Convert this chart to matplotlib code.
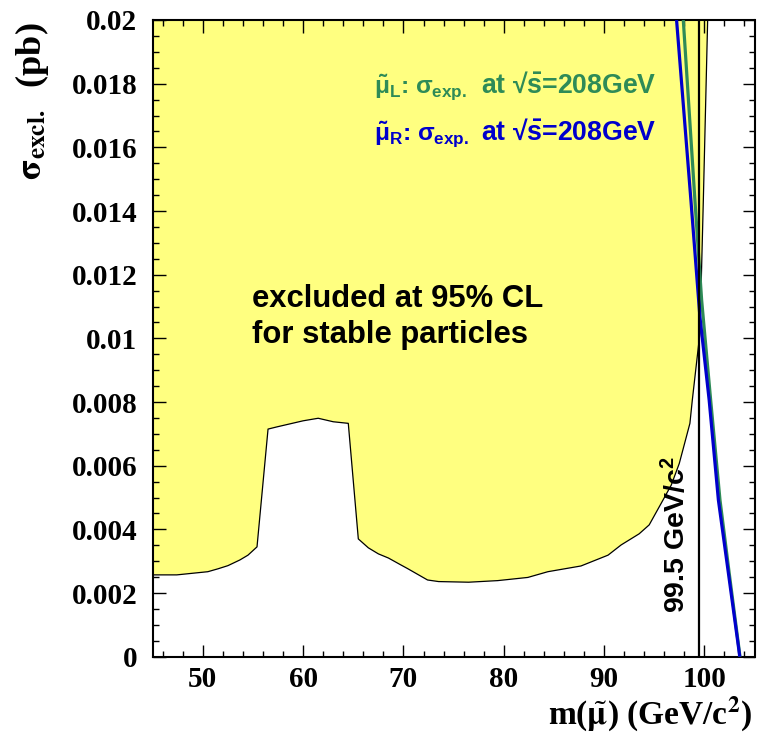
import matplotlib
matplotlib.use("Agg")
import matplotlib.pyplot as plt
from matplotlib.ticker import MultipleLocator

plt.rcParams['mathtext.fontset'] = 'custom'
plt.rcParams['mathtext.rm'] = 'Liberation Sans:bold'
plt.rcParams['mathtext.it'] = 'Liberation Sans:bold'
plt.rcParams['mathtext.bf'] = 'Liberation Sans:bold'

# Excluded cross-section boundary (region above is excluded)
mass_excl = [45.0, 47.4, 50.5, 51.5, 52.5, 53.7, 54.5, 55.4, 56.5, 57.4, 60.0, 61.5,
             63.0, 64.5, 65.5, 66.5, 67.5, 68.5, 69.7, 70.4, 72.4, 73.5, 76.5, 79.4,
             82.4, 84.4, 87.7, 90.4, 91.7, 93.5, 94.5, 95.7, 96.7, 97.5, 98.2, 98.56,
             98.8, 99.56, 99.9, 100.33]
sigma_excl = [0.00257, 0.00257, 0.00267, 0.00276, 0.00286, 0.00304, 0.00319, 0.00345,
              0.00715, 0.00722, 0.00741, 0.00749, 0.00738, 0.00733, 0.00370, 0.00342,
              0.00323, 0.00310, 0.00289, 0.00277, 0.00241, 0.00236, 0.00234, 0.00239,
              0.00249, 0.00267, 0.00285, 0.00319, 0.00351, 0.00386, 0.00414, 0.00482,
              0.00539, 0.00607, 0.00690, 0.00733, 0.00806, 0.01017, 0.01435, 0.0200]

# Expected cross sections at sqrt(s) = 208 GeV
mass_L = [97.9, 99.06, 99.73, 100.63, 101.56, 102.48, 103.43, 103.55]
sigma_L = [0.0200, 0.01434, 0.01120, 0.00806, 0.00492, 0.00262, 0.00031, 0.0]
mass_R = [97.23, 98.66, 99.56, 100.48, 101.40, 102.40, 103.40, 103.53]
sigma_R = [0.0200, 0.01434, 0.01067, 0.00806, 0.00492, 0.00262, 0.00031, 0.0]

mass_limit = 99.5

x_ticks = [50, 60, 70, 80, 90, 100]
y_ticks = [0, 0.002, 0.004, 0.006, 0.008, 0.01, 0.012, 0.014, 0.016, 0.018, 0.02]
y_labels = ['0', '0.002', '0.004', '0.006', '0.008', '0.01', '0.012', '0.014',
            '0.016', '0.018', '0.02']

W, H = 758, 740
fig = plt.figure(figsize=(W / 100, H / 100), dpi=100)
x0, x1, ytop, ybot = 152.7, 754.5, 20.0, 656.7
ax = fig.add_axes([x0 / W, 1 - ybot / H, (x1 - x0) / W, (ybot - ytop) / H])
ax.set_xlim(45, 105)
ax.set_ylim(0, 0.02)

yellow = '#ffff80'
green = '#2e8b57'
blue = '#0000cc'

# Excluded region
fill_x = list(mass_excl) + [mass_excl[-1], mass_excl[0]]
fill_y = list(sigma_excl) + [0.02, 0.02]
ax.fill(fill_x, fill_y, color=yellow, lw=0, zorder=1)
ax.plot(mass_excl, sigma_excl, color='black', lw=0.9, zorder=2)

ax.plot(mass_L, sigma_L, color=green, lw=2.3, zorder=3, solid_capstyle='butt')
ax.plot(mass_R, sigma_R, color=blue, lw=2.3, zorder=4, solid_capstyle='butt')
ax.axvline(mass_limit, color='black', lw=1.6, zorder=5)

serif = 'Liberation Serif'
sans = 'Liberation Sans'

ax.set_xticks(x_ticks)
ax.set_xticklabels([str(v) for v in x_ticks], fontfamily=serif, fontweight='bold', fontsize=21)
ax.set_yticks(y_ticks)
ax.set_yticklabels(y_labels, fontfamily=serif, fontweight='bold', fontsize=21)
ax.xaxis.set_minor_locator(MultipleLocator(2))
ax.yaxis.set_minor_locator(MultipleLocator(0.0005))
ax.tick_params(which='both', direction='in', top=True, right=True, width=1.0)
ax.tick_params(which='major', length=9)
ax.tick_params(which='minor', length=4.5)
ax.tick_params(axis='x', which='major', pad=7)
ax.tick_params(axis='y', which='major', pad=11)
for s in ax.spines.values():
    s.set_linewidth(1.5)

ax.text(54.93, 0.01099, 'excluded at 95% CL', fontfamily=sans, fontweight='bold',
        fontsize=22.3, va='baseline', ha='left', zorder=6)
ax.text(54.93, 0.00984, 'for stable particles', fontfamily=sans, fontweight='bold',
        fontsize=22.3, va='baseline', ha='left', zorder=6)

# Legend entries: particle / symbol part, then the energy part
legend_rows = [(r'$\tilde{\mu}_{L}$: $\sigma_{exp.}$', green, 0.01771),
               (r'$\tilde{\mu}_{R}$: $\sigma_{exp.}$', blue, 0.01623)]
for label, col, yv in legend_rows:
    ax.text(67.03, yv, label, color=col, fontfamily=sans, fontweight='bold',
            fontsize=17.6, math_fontfamily='custom', va='baseline', ha='left', zorder=6)
    ax.text(77.7, yv, r'at √$\bar{s}$=208GeV', color=col,
            fontfamily=[sans, 'DejaVu Sans'], fontweight='bold', fontsize=19.2,
            math_fontfamily='custom', va='baseline', ha='left', zorder=6)

ax.text(98.73, 0.00137, r'99.5 GeV/c$^{2}$', rotation=90, fontfamily=sans,
        fontweight='bold', fontsize=20.5, math_fontfamily='custom',
        ha='right', va='bottom', zorder=6)

fig.text(752 / W, 1 - 725 / H, r'm($\tilde{\mathbf{\mu}}$) (GeV/c$^{\mathbf{2}}$)',
         fontfamily=serif, fontweight='bold', fontsize=24, math_fontfamily='stix',
         ha='right', va='baseline')
fig.text(32 / W, 1 - 22 / H, r'$\mathbf{\sigma}_{\mathbf{excl.}}$  (pb)', rotation=90,
         fontfamily=serif, fontweight='bold', fontsize=26, math_fontfamily='stix',
         ha='center', va='top')

fig.savefig('out.png', dpi=100)
